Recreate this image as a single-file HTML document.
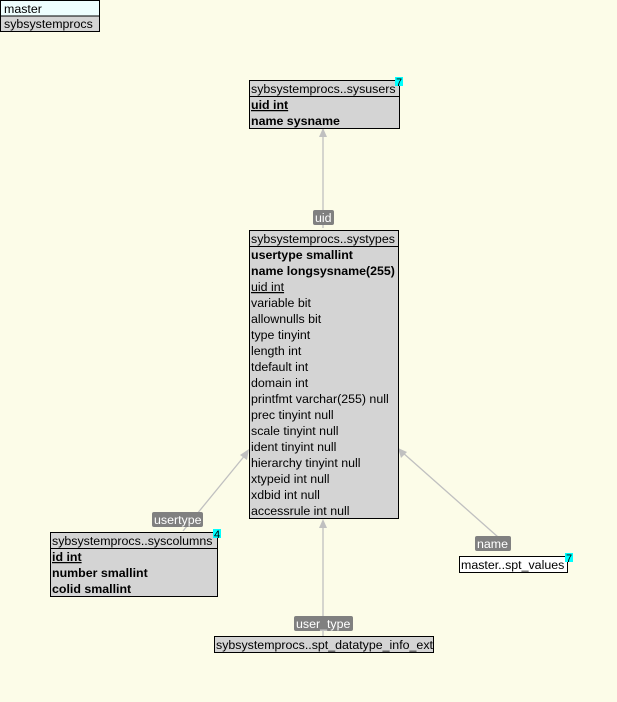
<!DOCTYPE html>
<html><head><meta charset="utf-8"><style>
html,body{margin:0;padding:0;background:#fcfce8;}
svg{display:block;font-family:"Liberation Sans",Arial,sans-serif;font-size:12.4px;}
.b{font-weight:bold}
.n{font-size:11px}
</style></head><body>
<svg width="617" height="702" xmlns="http://www.w3.org/2000/svg">
<rect width="617" height="702" fill="#fcfce8"/>
<rect x="0.5" y="0.5" width="99" height="31" fill="#eefefe" stroke="#000"/>
<rect x="1" y="16" width="98" height="15" fill="#d4d4d4"/>
<line x1="0" y1="16" x2="100" y2="16" stroke="#000"/>
<text x="4" y="13">master</text>
<text x="4" y="28">sybsystemprocs</text>

<g stroke="#c0c0c0" stroke-width="1.3" fill="none">
<line x1="323" y1="228" x2="323" y2="132"/>
<line x1="183" y1="531" x2="246" y2="454"/>
<line x1="498" y1="537" x2="402" y2="452"/>
<line x1="323" y1="636" x2="323" y2="523"/>
</g>
<g fill="#c0c0c0">
<polygon points="323,128 319,137 327,137"/>
<polygon points="249,449 240,455 247,460"/>
<polygon points="398,448 401,458 407,452"/>
<polygon points="323,519 319,528 327,528"/>
</g>

<g fill="#808080">
<rect x="313" y="210" width="21" height="15" rx="2"/>
<rect x="152" y="512" width="51" height="15" rx="2"/>
<rect x="475" y="536" width="36" height="15" rx="2"/>
<rect x="294" y="616" width="59" height="15" rx="2"/>
</g>
<g fill="#fff">
<text x="315" y="222">uid</text>
<text x="154" y="524">usertype</text>
<text x="477" y="548">name</text>
<text x="296" y="628">user_type</text>
</g>

<rect x="249.5" y="80.5" width="150" height="48" fill="#d4d4d4" stroke="#000"/>
<line x1="249" y1="96.5" x2="400" y2="96.5" stroke="#000"/>
<text x="251" y="93">sybsystemprocs..sysusers</text>
<text x="251" y="109" class="b" text-decoration="underline">uid int</text>
<text x="251" y="125" class="b">name sysname</text>
<rect x="395" y="77" width="8" height="9" fill="#00ffff"/>
<text x="396" y="86" class="n">7</text>

<rect x="249.5" y="230.5" width="149" height="288" fill="#d4d4d4" stroke="#000"/>
<line x1="249" y1="246.5" x2="399" y2="246.5" stroke="#000"/>
<text x="251" y="243">sybsystemprocs..systypes</text>
<text x="251" y="259" class="b">usertype smallint</text>
<text x="251" y="275" class="b">name longsysname(255)</text>
<text x="251" y="291" text-decoration="underline">uid int</text>
<text x="251" y="307">variable bit</text>
<text x="251" y="323">allownulls bit</text>
<text x="251" y="339">type tinyint</text>
<text x="251" y="355">length int</text>
<text x="251" y="371">tdefault int</text>
<text x="251" y="387">domain int</text>
<text x="251" y="403">printfmt varchar(255) null</text>
<text x="251" y="419">prec tinyint null</text>
<text x="251" y="435">scale tinyint null</text>
<text x="251" y="451">ident tinyint null</text>
<text x="251" y="467">hierarchy tinyint null</text>
<text x="251" y="483">xtypeid int null</text>
<text x="251" y="499">xdbid int null</text>
<text x="251" y="515">accessrule int null</text>

<rect x="50.5" y="532.5" width="167" height="64" fill="#d4d4d4" stroke="#000"/>
<line x1="50" y1="548.5" x2="218" y2="548.5" stroke="#000"/>
<text x="52" y="545">sybsystemprocs..syscolumns</text>
<text x="52" y="561" class="b" text-decoration="underline">id int</text>
<text x="52" y="577" class="b">number smallint</text>
<text x="52" y="593" class="b">colid smallint</text>
<rect x="213" y="529" width="8" height="9" fill="#00ffff"/>
<text x="214" y="538" class="n">4</text>

<rect x="459.5" y="556.5" width="108" height="16" fill="#fff" stroke="#000"/>
<text x="461" y="569">master..spt_values</text>
<rect x="565" y="553" width="8" height="9" fill="#00ffff"/>
<text x="566" y="562" class="n">7</text>

<rect x="214.5" y="636.5" width="219" height="16" fill="#d4d4d4" stroke="#000"/>
<text x="216" y="649">sybsystemprocs..spt_datatype_info_ext</text>
</svg>
</body></html>
